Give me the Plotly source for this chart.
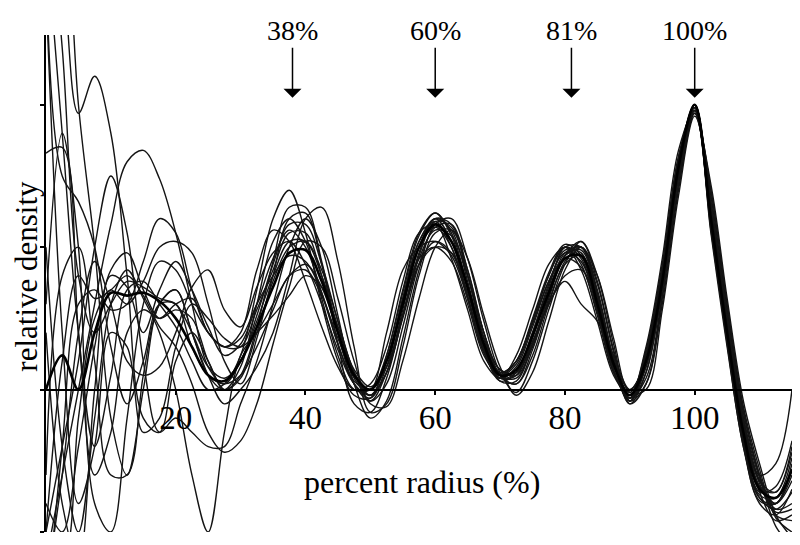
import plotly.graph_objects as go

# percent radius grid
X = [0, 2.5, 5, 7.5, 10, 12.5, 15, 17.5, 20, 22.5, 25, 27.5, 30, 32.5, 35, 37.5, 40, 42.5,
     45, 47.5, 50, 52.5, 55, 57.5, 60, 62.5, 65, 67.5, 70, 72.5, 75, 77.5, 80, 82.5, 85,
     87.5, 90, 92.5, 95, 97.5, 100, 102.5, 105, 107.5, 110, 112.5, 115]

mean_profile = [0.0, 0.12, 0.0, 0.2, 0.34, 0.33, 0.34, 0.31, 0.25, 0.15, 0.05, 0.03,
    0.1, 0.22, 0.36, 0.48, 0.49, 0.38, 0.2, 0.05, 0.0, 0.1, 0.3, 0.5, 0.58, 0.52, 0.36, 0.16,
    0.05, 0.07, 0.19, 0.34, 0.46, 0.47, 0.3, 0.09, -0.02, 0.1, 0.38, 0.78, 1.0, 0.6, 0.2,
    -0.15, -0.35, -0.38, -0.28]

curve_a = [1.6, 0.9, 0.2, -0.2, 0.05, 0.35, 0.38, 0.3, 0.22, 0.1, 0.0, 0.02,
    0.12, 0.35, 0.6, 0.7, 0.55, 0.3, 0.1, -0.02, -0.03, 0.12, 0.35, 0.55, 0.62, 0.55, 0.36, 0.15,
    0.04, 0.06, 0.2, 0.36, 0.5, 0.5, 0.33, 0.1, -0.03, 0.1, 0.4, 0.8, 1.0, 0.62, 0.22, -0.12,
    -0.3, -0.26, 0.0]
curve_b = [1.8, 1.5, 0.97, 1.1, 0.9, 0.4, -0.1, -0.15, 0.1, 0.2, 0.1, 0.0,
    0.05, 0.22, 0.45, 0.64, 0.64, 0.45, 0.2, 0.02, -0.04, 0.06, 0.28, 0.5, 0.6, 0.56, 0.38, 0.16,
    0.04, 0.05, 0.18, 0.35, 0.48, 0.5, 0.34, 0.1, -0.04, 0.08, 0.37, 0.77, 1.0, 0.64, 0.24, -0.1,
    -0.32, -0.36, -0.2]
curve_c = [2.0, 1.8, 1.0, 0.5, -0.1, -0.3, 0.0, 0.3, 0.35, 0.2, 0.05, -0.05,
    0.0, 0.08, 0.2, 0.4, 0.6, 0.64, 0.45, 0.15, -0.08, -0.05, 0.15, 0.4, 0.55, 0.56, 0.42, 0.2,
    0.05, 0.02, 0.14, 0.32, 0.47, 0.52, 0.38, 0.14, -0.03, 0.04, 0.33, 0.72, 0.98, 0.68, 0.28,
    -0.08, -0.3, -0.42, -0.4]
curve_d = [0.83, 0.85, 0.2, -0.3, -0.15, 0.2, 0.28, 0.25, 0.3, 0.32, 0.2, 0.15,
    0.15, 0.28, 0.42, 0.55, 0.55, 0.4, 0.2, 0.05, 0.0, 0.1, 0.32, 0.52, 0.6, 0.52, 0.33, 0.14,
    0.06, 0.1, 0.24, 0.4, 0.5, 0.46, 0.28, 0.06, -0.03, 0.12, 0.42, 0.8, 0.99, 0.58, 0.18, -0.18,
    -0.38, -0.4, -0.3]
curve_e = [0.3, 0.9, 0.5, -0.4, -0.5, -0.1, 0.3, 0.45, 0.42, 0.3, 0.2, 0.15,
    0.2, 0.42, 0.56, 0.52, 0.38, 0.22, 0.08, 0.0, 0.02, 0.15, 0.38, 0.55, 0.58, 0.46, 0.28, 0.1,
    0.04, 0.12, 0.28, 0.44, 0.5, 0.42, 0.24, 0.05, -0.02, 0.15, 0.46, 0.84, 0.98, 0.55, 0.15, -0.2,
    -0.4, -0.44, -0.35]
curve_f = [1.5, 0.75, 0.66, 0.5, 0.15, -0.05, 0.1, 0.3, 0.3, 0.15, 0.05, 0.02,
    0.05, 0.15, 0.28, 0.4, 0.42, 0.33, 0.18, 0.04, -0.02, 0.06, 0.25, 0.44, 0.52, 0.48, 0.34, 0.16,
    0.06, 0.06, 0.17, 0.3, 0.4, 0.42, 0.3, 0.1, 0.0, 0.1, 0.38, 0.76, 0.98, 0.62, 0.22, -0.14,
    -0.36, -0.46, -0.44]
curve_g = [-0.6, -0.3, 0.0, 0.3, 0.58, 0.8, 0.84, 0.74, 0.55, 0.3, 0.08, 0.02,
    0.1, 0.24, 0.4, 0.52, 0.52, 0.4, 0.22, 0.06, 0.0, 0.08, 0.26, 0.46, 0.56, 0.54, 0.4, 0.2,
    0.07, 0.06, 0.16, 0.3, 0.38, 0.3, 0.24, 0.12, 0.0, 0.1, 0.36, 0.74, 0.97, 0.66, 0.26, -0.1,
    -0.32, -0.4, -0.32]
curve_h = [-0.5, -0.2, 0.1, 0.5, 0.75, 0.55, 0.1, -0.15, -0.1, -0.15, -0.2, -0.2,
    -0.05, 0.1, 0.3, 0.5, 0.6, 0.5, 0.26, 0.02, -0.1, -0.04, 0.18, 0.42, 0.58, 0.6, 0.46, 0.24,
    0.06, -0.01, 0.1, 0.28, 0.44, 0.52, 0.4, 0.16, -0.04, 0.02, 0.3, 0.7, 0.97, 0.7, 0.3, -0.06,
    -0.28, -0.45, -0.5]
curve_i = [-0.8, -0.2, 0.3, 0.35, 0.28, 0.3, 0.45, 0.6, 0.55, 0.35, 0.2, 0.15,
    0.18, 0.3, 0.4, 0.47, 0.45, 0.34, 0.16, 0.02, -0.03, 0.08, 0.3, 0.5, 0.57, 0.5, 0.32, 0.13,
    0.04, 0.08, 0.22, 0.38, 0.48, 0.45, 0.28, 0.07, -0.04, 0.1, 0.4, 0.79, 1.0, 0.6, 0.2, -0.16,
    -0.36, -0.34, -0.18]
curve_j = [-0.6, -0.6, -0.1, 0.25, 0.35, 0.3, 0.38, 0.5, 0.52, 0.48, 0.3, 0.1,
    0.02, 0.18, 0.4, 0.6, 0.62, 0.44, 0.16, -0.05, -0.08, 0.04, 0.26, 0.48, 0.6, 0.58, 0.4, 0.18,
    0.03, 0.03, 0.16, 0.33, 0.47, 0.49, 0.32, 0.1, -0.05, 0.06, 0.36, 0.76, 1.0, 0.64, 0.24, -0.12,
    -0.34, -0.4, -0.26]
curve_k = [-0.7, -0.3, 0.2, 0.45, 0.3, 0.1, 0.05, 0.08, 0.2, 0.36, 0.42, 0.28,
    0.22, 0.36, 0.48, 0.52, 0.44, 0.3, 0.14, 0.02, -0.02, 0.1, 0.3, 0.46, 0.5, 0.45, 0.3, 0.12,
    0.05, 0.1, 0.24, 0.4, 0.5, 0.44, 0.26, 0.06, -0.02, 0.14, 0.44, 0.82, 0.99, 0.56, 0.16, -0.2,
    -0.38, -0.42, -0.36]
curve_l = [0.5, -0.2, -0.5, -0.1, 0.3, 0.42, 0.32, 0.2, 0.0, -0.3, -0.5, -0.15,
    0.12, 0.2, 0.3, 0.4, 0.44, 0.36, 0.2, 0.05, 0.0, 0.2, 0.42, 0.5, 0.52, 0.47, 0.32, 0.14,
    0.05, 0.09, 0.23, 0.38, 0.46, 0.43, 0.27, 0.08, -0.01, 0.12, 0.42, 0.8, 0.99, 0.58, 0.18, -0.17,
    -0.37, -0.38, -0.24]
curve_m = [-0.3, 0.4, 0.5, 0.1, -0.3, -0.3, 0.05, 0.3, 0.35, 0.2, 0.05, 0.0,
    0.08, 0.3, 0.52, 0.6, 0.52, 0.32, 0.12, 0.0, 0.0, 0.12, 0.34, 0.54, 0.62, 0.54, 0.35, 0.14,
    0.03, 0.06, 0.2, 0.37, 0.49, 0.48, 0.31, 0.09, -0.03, 0.1, 0.39, 0.78, 1.0, 0.61, 0.21, -0.14,
    -0.34, -0.36, -0.22]
curve_n = [1.4, 0.2, -0.4, -0.2, 0.2, 0.15, -0.15, -0.1, 0.15, 0.3, 0.25, 0.18,
    0.15, 0.2, 0.26, 0.33, 0.4, 0.36, 0.22, 0.07, 0.01, 0.08, 0.26, 0.44, 0.5, 0.48, 0.36, 0.18,
    0.07, 0.05, 0.15, 0.31, 0.44, 0.47, 0.33, 0.11, -0.02, 0.08, 0.37, 0.77, 0.99, 0.63, 0.23, -0.13,
    -0.33, -0.43, -0.42]
curve_o = [-0.5, 0.1, 0.4, 0.32, 0.35, 0.4, 0.33, 0.22, 0.15, 0.02, -0.15, -0.22,
    -0.18, -0.05, 0.16, 0.36, 0.52, 0.5, 0.32, 0.1, -0.05, -0.06, 0.1, 0.32, 0.5, 0.56, 0.46, 0.26,
    0.08, -0.02, 0.06, 0.24, 0.42, 0.5, 0.4, 0.18, -0.01, 0.0, 0.28, 0.68, 0.96, 0.72, 0.32, -0.04,
    -0.26, -0.44, -0.52]
curve_p = [1.8, 1.2, 0.4, 0.2, 0.3, 0.38, 0.36, 0.32, 0.3, 0.2, 0.08, 0.04,
    0.1, 0.26, 0.44, 0.58, 0.58, 0.44, 0.24, 0.06, -0.02, 0.06, 0.26, 0.47, 0.59, 0.57, 0.4, 0.18,
    0.05, 0.04, 0.16, 0.33, 0.47, 0.5, 0.35, 0.11, -0.04, 0.06, 0.35, 0.75, 1.0, 0.66, 0.26, -0.1,
    -0.31, -0.44, -0.46]
curve_q = [-0.4, -0.5, -0.2, 0.15, 0.42, 0.48, 0.35, 0.25, 0.28, 0.25, 0.1, 0.0,
    0.04, 0.2, 0.38, 0.5, 0.52, 0.42, 0.24, 0.06, -0.04, 0.02, 0.22, 0.44, 0.57, 0.58, 0.42, 0.2,
    0.05, 0.02, 0.12, 0.3, 0.45, 0.5, 0.37, 0.13, -0.05, 0.02, 0.32, 0.72, 0.98, 0.7, 0.3, -0.07,
    -0.3, -0.48, -0.55]
curve_r = [0.2, -0.4, -0.6, 0.0, 0.4, 0.36, 0.2, 0.35, 0.45, 0.35, 0.22, 0.12,
    0.16, 0.3, 0.46, 0.56, 0.5, 0.34, 0.16, 0.03, 0.0, 0.1, 0.32, 0.52, 0.59, 0.5, 0.32, 0.13,
    0.06, 0.1, 0.25, 0.41, 0.51, 0.47, 0.29, 0.07, -0.03, 0.13, 0.43, 0.81, 0.99, 0.57, 0.17, -0.19,
    -0.39, -0.4, -0.28]

x_ticks = [20, 40, 60, 80, 100]
y_ticks = [-0.5, 0, 0.5, 1.0]
peak_labels = ["38%", "60%", "81%", "100%"]
peak_positions = [38, 60, 81, 100]

thin_curves = [curve_a, curve_b, curve_c, curve_d, curve_e, curve_f, curve_g, curve_h,
               curve_i, curve_j, curve_k, curve_l, curve_m, curve_n, curve_o, curve_p,
               curve_q, curve_r]
for c in thin_curves + [mean_profile]:
    if len(c) != len(X):
        raise ValueError("length mismatch %d" % len(c))

SERIF = "Liberation Serif, Times New Roman, serif"

fig = go.Figure()
for c in thin_curves:
    fig.add_trace(go.Scatter(x=X, y=c, mode="lines", hoverinfo="skip", showlegend=False,
                             line=dict(color="#141414", width=1.4, shape="spline", smoothing=1.0)))
fig.add_trace(go.Scatter(x=X, y=mean_profile, mode="lines", hoverinfo="skip", showlegend=False,
                         line=dict(color="#000000", width=2.6, shape="spline", smoothing=1.0)))

YMIN, YMAX = -0.5, 1.245
zero_pos = (0 - YMIN) / (YMAX - YMIN)

annotations = []
for lab, px in zip(peak_labels, peak_positions):
    annotations.append(dict(x=px, y=1.025, xref="x", yref="y", text=lab, showarrow=True,
                            ax=0, ay=-67, arrowhead=1, arrowsize=2.0, arrowwidth=1.5,
                            arrowcolor="black", font=dict(family=SERIF, size=28, color="black")))
annotations.append(dict(x=58, y=-0.326, xref="x", yref="y", text="percent radius (%)",
                        showarrow=False, xanchor="center", yanchor="middle",
                        font=dict(family=SERIF, size=32, color="black")))
annotations.append(dict(x=-0.0255, y=0.4, xref="paper", yref="y", text="relative density",
                        textangle=-90, showarrow=False, xanchor="center", yanchor="middle",
                        borderpad=0,
                        font=dict(family=SERIF, size=31, color="black")))

# the page body adds an 8px margin, so the figure is sized to fill the rest of the window
fig.update_layout(
    width=792, height=537,
    margin=dict(l=38, r=8, t=27, b=13),
    paper_bgcolor="white", plot_bgcolor="white",
    showlegend=False,
    annotations=annotations,
    xaxis=dict(range=[0, 115], anchor="free", position=zero_pos, showline=True,
               linecolor="black", linewidth=2, ticks="outside", ticklen=4, tickwidth=1.5,
               tickcolor="black", tickvals=x_ticks, showgrid=False, zeroline=False,
               ticklabelstandoff=-5,
               tickfont=dict(family=SERIF, size=33, color="black")),
    yaxis=dict(range=[YMIN, YMAX], showline=True, linecolor="black", linewidth=2,
               ticks="outside", ticklen=4, tickwidth=1.5, tickcolor="black",
               tickvals=y_ticks, showticklabels=False, showgrid=False, zeroline=False),
)

fig.write_html("out.html")
